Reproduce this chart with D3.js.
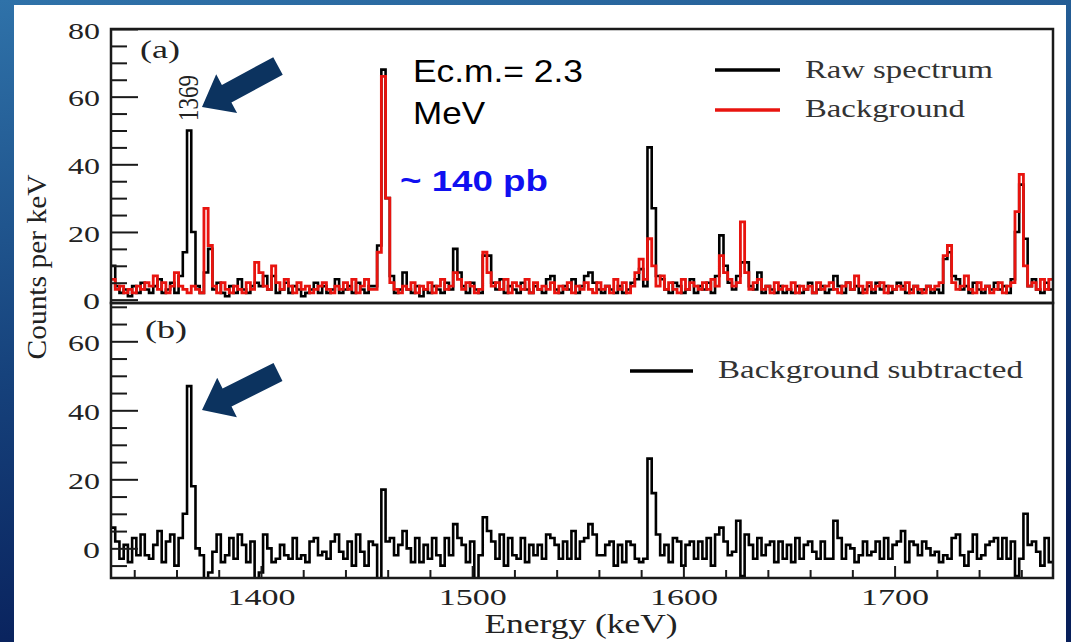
<!DOCTYPE html>
<html><head><meta charset="utf-8">
<script src="https://cdn.jsdelivr.net/npm/d3@7"></script>
<style>body{margin:0;background:#fff}svg{display:block}</style>
</head><body>
<svg id="chart" width="1071" height="642"></svg>
<script>
// ---- data (2 keV bins starting at 1329 keV) ----
const energyStart = 1329;
const binWidth = 2;
const rawCounts = [
 10,4,2,3,1,4,2,5,3,2,
 4,6,2,3,5,2,7,14,50,20,
 4,2,8,15,3,5,2,1,4,2,
 6,3,2,4,5,4,7,3,7,2,
 3,5,2,4,3,1,2,3,5,2,
 4,2,3,6,2,3,4,2,5,3,
 2,4,4,16,68,30,7,2,3,8,
 3,2,4,1,3,2,4,3,2,5,
 3,15,8,4,2,5,3,2,13,13,
 5,3,6,2,4,3,2,5,3,2,
 4,3,2,6,7,3,2,4,3,6,
 2,4,7,8,5,3,2,4,3,2,
 4,2,3,5,6,9,4,45,27,7,
 6,3,2,5,4,2,3,6,2,4,
 3,5,2,7,19,10,5,3,7,11,
 11,4,3,8,2,4,3,2,4,2,
 3,2,4,2,3,5,2,3,4,2,
 3,7,4,2,5,3,4,2,3,4,
 2,5,3,4,2,3,5,4,2,3,
 4,2,3,4,2,3,2,12,14,7,
 6,3,4,2,5,3,2,4,3,5,
 3,4,2,6,20,34,18,4,6,3,
 2,5,3
];
const backgroundCounts = [
 6,3,4,2,3,2,4,3,5,4,
 7,3,5,2,4,8,4,3,2,4,
 3,2,27,16,4,2,5,3,2,4,
 3,2,5,3,11,8,4,3,10,5,
 3,6,4,2,5,3,4,2,3,4,
 5,3,2,4,3,5,3,6,2,4,
 6,3,3,14,66,30,5,3,2,4,
 3,5,2,4,3,5,2,4,6,3,
 4,8,6,3,5,4,2,3,14,8,
 4,5,3,6,2,5,4,3,6,2,
 5,3,4,3,5,2,4,3,5,2,
 4,3,5,3,2,5,3,4,2,6,
 3,5,2,4,8,12,6,18,10,4,
 7,3,5,3,2,6,3,5,4,3,
 5,3,6,4,13,8,6,4,5,23,
 8,3,5,6,3,4,2,5,3,4,
 3,5,2,4,3,4,2,5,3,4,
 5,3,2,4,5,3,7,4,2,5,
 3,4,5,2,4,3,4,3,5,2,
 4,3,2,4,3,4,5,13,16,5,
 3,4,7,3,2,5,3,4,2,3,
 5,2,4,5,26,37,10,4,5,3,
 6,3,6
];
const subtractedCounts = [
 6,2,-3,1,-4,3,-2,4,-2,-3,
 1,5,-4,2,4,-5,3,10,47,18,
 0,-2,-12,-7,-1,4,-4,-2,3,-3,
 4,1,-4,2,-10,-7,4,0,-4,-3,
 1,-2,-3,3,-3,-2,-4,2,3,-2,
 -1,-3,2,4,-1,-3,2,-5,4,-1,
 -5,2,1,-10,17,2,3,-2,1,5,
 0,-4,3,-4,1,-3,3,-2,-5,3,
 -2,7,3,1,-4,2,-9,-2,9,5,
 2,-3,4,-5,3,-2,-3,3,-4,1,
 -2,1,-3,4,3,1,-3,2,-3,5,
 -3,2,3,7,4,-2,-2,1,2,-5,
 1,-4,2,1,-3,-4,-3,26,16,4,
 -2,1,-4,3,2,-5,1,2,-3,2,
 -3,3,-5,4,6,2,-2,-1,8,-8,
 4,1,-3,3,-2,1,2,-4,2,-3,
 1,-4,3,-3,1,2,-1,-3,2,-3,
 -3,8,3,-3,1,0,-4,-2,2,-2,
 -1,2,-3,3,-3,1,2,5,-4,2,
 1,-2,2,0,-2,-1,-4,-2,-3,3,
 4,-2,-5,-1,4,-3,-2,1,2,3,
 -3,3,-3,2,-8,-3,10,1,2,-1,
 -5,3,-4
];
const xMajorTicks = [1400, 1500, 1600, 1700];
const yMajorTicksA = [0, 20, 40, 60, 80];
const yMajorTicksB = [0, 20, 40, 60];
const legendA = ["Raw spectrum", "Background"];
const legendB = ["Background subtracted"];

// ---- layout ----
const svg = d3.select("#chart");
const L = 111, R = 1053, T = 29, MID = 303, B = 578;
const serif = "'Liberation Serif','Times New Roman',serif";
const sans = "'Liberation Sans',Arial,sans-serif";
const ink = "#1a1a1a";

const x = d3.scaleLinear().domain([1329, 1775]).range([L, R]);
const yA = d3.scaleLinear().domain([-1, 80]).range([MID, T]);
const yB = d3.scaleLinear().domain([-8.6, 71.1]).range([B, MID]);

// background slide
const defs = svg.append("defs");
const g0 = defs.append("linearGradient").attr("id","bg").attr("x1","0").attr("y1","0").attr("x2","0.25").attr("y2","1");
g0.append("stop").attr("offset","0%").attr("stop-color","#2f72a9");
g0.append("stop").attr("offset","55%").attr("stop-color","#16427c");
g0.append("stop").attr("offset","100%").attr("stop-color","#081f5a");
svg.append("rect").attr("width",1071).attr("height",642).attr("fill","url(#bg)");
svg.append("rect").attr("x",14).attr("y",5).attr("width",1052).attr("height",637).attr("fill","#ffffff");

defs.append("clipPath").attr("id","clipA").append("rect").attr("x",L).attr("y",T).attr("width",R-L).attr("height",MID-T);
defs.append("clipPath").attr("id","clipB").append("rect").attr("x",L).attr("y",MID).attr("width",R-L).attr("height",B-MID);

function stepPoints(vals, y) {
  const pts = vals.map((v,i)=>[x(energyStart + i*binWidth), y(v)]);
  pts.push([x(energyStart + vals.length*binWidth), y(vals[vals.length-1])]);
  return pts;
}
const stepLine = d3.line().curve(d3.curveStepAfter);

// panel a traces
const gA = svg.append("g").attr("clip-path","url(#clipA)");
gA.append("path").attr("d", stepLine(stepPoints(rawCounts, yA)))
  .attr("fill","none").attr("stroke","#000").attr("stroke-width",2.6);
gA.append("path").attr("d", stepLine(stepPoints(backgroundCounts, yA)))
  .attr("fill","none").attr("stroke","#e8140f").attr("stroke-width",2.8);

// panel b trace
const gB = svg.append("g").attr("clip-path","url(#clipB)");
gB.append("path").attr("d", stepLine(stepPoints(subtractedCounts, yB)))
  .attr("fill","none").attr("stroke","#000").attr("stroke-width",2.6);

// axes
function styleAxis(g){ g.select(".domain").remove(); g.selectAll("line").attr("stroke",ink).attr("stroke-width",2); }
function labelLen(d){ const s=String(d); return s.length===1?17:(s.length===2?32:68); }

function yAxis(scale, majors, minorDomain){
  const minors = d3.range(minorDomain[0], minorDomain[1]+0.1, 5).filter(v=>majors.indexOf(v)<0);
  svg.append("g").attr("transform",`translate(${L},0)`)
    .call(d3.axisLeft(scale).tickValues(minors).tickSize(-16).tickFormat(""))
    .call(styleAxis);
  const g = svg.append("g").attr("transform",`translate(${L},0)`)
    .call(d3.axisLeft(scale).tickValues(majors).tickSize(-27).tickPadding(11).tickFormat(d3.format("d")))
    .call(styleAxis);
  g.selectAll("text").attr("font-family",serif).attr("font-size",24).attr("fill","#222")
    .attr("dy","0.38em").attr("textLength",d=>labelLen(d)).attr("lengthAdjust","spacingAndGlyphs");
}
yAxis(yA, yMajorTicksA, [0,80]);
yAxis(yB, yMajorTicksB, [-5,70]);

// x axis (bottom of panel b)
const xMinor = d3.range(1340, 1775, 20).filter(v=>xMajorTicks.indexOf(v)<0);
svg.append("g").attr("transform",`translate(0,${B})`)
  .call(d3.axisBottom(x).tickValues(xMinor).tickSize(-8).tickFormat(""))
  .call(styleAxis);
const gx = svg.append("g").attr("transform",`translate(0,${B})`)
  .call(d3.axisBottom(x).tickValues(xMajorTicks).tickSize(-12).tickPadding(10).tickFormat(d3.format("d")))
  .call(styleAxis);
gx.selectAll("text").attr("font-family",serif).attr("font-size",24).attr("fill","#222")
  .attr("textLength",d=>labelLen(d)).attr("lengthAdjust","spacingAndGlyphs");

// frames
svg.append("rect").attr("x",L).attr("y",T).attr("width",R-L).attr("height",MID-T)
  .attr("fill","none").attr("stroke",ink).attr("stroke-width",2.5);
svg.append("rect").attr("x",L).attr("y",MID).attr("width",R-L).attr("height",B-MID)
  .attr("fill","none").attr("stroke",ink).attr("stroke-width",2.5);

// axis titles
svg.append("text").attr("transform","translate(46,267) rotate(-90)")
  .attr("text-anchor","middle").attr("font-family",serif).attr("font-size",27).attr("fill","#222")
  .attr("textLength",185).attr("lengthAdjust","spacingAndGlyphs").text("Counts per keV");
svg.append("text").attr("x",581).attr("y",633)
  .attr("text-anchor","middle").attr("font-family",serif).attr("font-size",27).attr("fill","#222")
  .attr("textLength",193).attr("lengthAdjust","spacingAndGlyphs").text("Energy (keV)");

// panel labels
svg.append("text").attr("x",140).attr("y",58).attr("font-family",serif).attr("font-size",25).attr("fill","#222")
  .attr("textLength",40).attr("lengthAdjust","spacingAndGlyphs").text("(a)");
svg.append("text").attr("x",145).attr("y",338).attr("font-family",serif).attr("font-size",25).attr("fill","#222")
  .attr("textLength",42).attr("lengthAdjust","spacingAndGlyphs").text("(b)");
svg.append("text").attr("transform","translate(188,98) scale(1.3,1) rotate(-90)")
  .attr("text-anchor","middle").attr("dy","0.35em").attr("font-family",serif).attr("font-size",23).attr("fill","#222")
  .text("1369");

// legends
function legendItem(x0, x1, yLine, tx, tyBase, label, color, len){
  svg.append("line").attr("x1",x0).attr("x2",x1).attr("y1",yLine).attr("y2",yLine)
    .attr("stroke",color).attr("stroke-width",3.5);
  svg.append("text").attr("x",tx).attr("y",tyBase).attr("font-family",serif).attr("font-size",25).attr("fill","#333")
    .attr("textLength",len).attr("lengthAdjust","spacingAndGlyphs").text(label);
}
legendItem(715, 780, 70, 805, 78, legendA[0], "#000", 188);
legendItem(715, 780, 110, 805, 117, legendA[1], "#e8140f", 160);
legendItem(630, 693, 371, 718, 378, legendB[0], "#000", 305);

// annotations
svg.append("text").attr("x",413).attr("y",82).attr("font-family",sans).attr("font-size",32).attr("fill","#000")
  .attr("textLength",170).attr("lengthAdjust","spacingAndGlyphs").text("Ec.m.= 2.3");
svg.append("text").attr("x",413).attr("y",124).attr("font-family",sans).attr("font-size",32).attr("fill","#000")
  .attr("textLength",72).attr("lengthAdjust","spacingAndGlyphs").text("MeV");
svg.append("text").attr("x",400).attr("y",191).attr("font-family",sans).attr("font-weight","bold").attr("font-size",30).attr("fill","#1010f0")
  .attr("textLength",148).attr("lengthAdjust","spacingAndGlyphs").text("~ 140 pb");

// block arrows
function arrowPath(tip, tail, shaftW, headW, headL){
  const dx = tail[0]-tip[0], dy = tail[1]-tip[1], len = Math.hypot(dx,dy);
  const u = [dx/len, dy/len], n = [-u[1], u[0]];
  const hb = [tip[0]+u[0]*headL, tip[1]+u[1]*headL];
  const p = (base, k) => [base[0]+n[0]*k, base[1]+n[1]*k];
  const pts = [tip, p(hb, headW/2), p(hb, shaftW/2), p(tail, shaftW/2), p(tail, -shaftW/2), p(hb, -shaftW/2), p(hb, -headW/2)];
  return "M" + pts.map(q=>q.join(",")).join("L") + "Z";
}
svg.append("path").attr("d", arrowPath([202,107],[278,66],20,44,28)).attr("fill","#0c335f");
svg.append("path").attr("d", arrowPath([202,410],[278,372],20,44,28)).attr("fill","#0c335f");
</script>
</body></html>
